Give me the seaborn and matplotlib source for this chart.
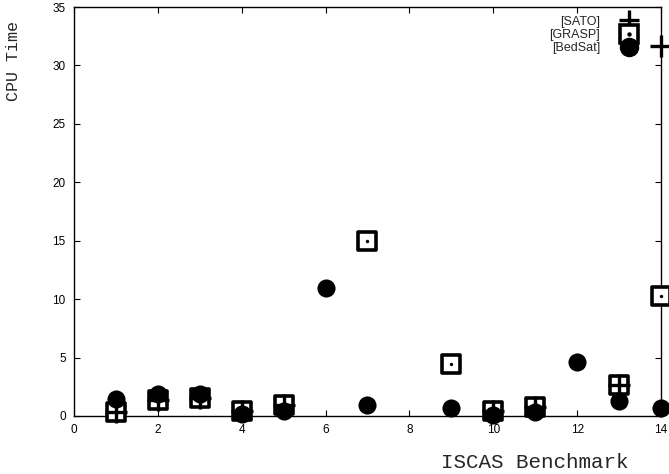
import matplotlib
matplotlib.use("Agg")
from matplotlib import pyplot as plt
from matplotlib.legend_handler import HandlerTuple
from matplotlib.lines import Line2D
import pandas as pd
import seaborn as sns

# values
sato_x = [1, 2, 3, 4, 5, 10, 11, 13, 14]
sato_y = [0.35, 1.4, 1.5, 0.4, 0.95, 0.4, 0.8, 2.65, 31.7]

grasp_x = [1, 2, 3, 4, 5, 7, 9, 10, 11, 13, 14]
grasp_y = [0.35, 1.4, 1.5, 0.4, 0.95, 15.0, 4.45, 0.4, 0.8, 2.65, 10.25]

bedsat_x = [1, 2, 3, 4, 5, 6, 7, 9, 10, 11, 12, 13, 14]
bedsat_y = [1.45, 1.85, 1.85, 0.15, 0.4, 10.95, 0.95, 0.7, 0.1, 0.3, 4.6, 1.3, 0.7]

x_ticks = [0, 2, 4, 6, 8, 10, 12, 14]
y_ticks = [0, 5, 10, 15, 20, 25, 30, 35]

sato = pd.DataFrame({"x": sato_x, "y": sato_y})
grasp = pd.DataFrame({"x": grasp_x, "y": grasp_y})
bedsat = pd.DataFrame({"x": bedsat_x, "y": bedsat_y})

sns.set_theme(style="ticks")
plt.rcParams["font.family"] = ["Liberation Sans", "DejaVu Sans"]

fig = plt.figure(figsize=(6.69, 4.74), dpi=100)
ax = fig.add_axes([74 / 669, 1 - 416 / 474, 587 / 669, 409 / 474])

sns.scatterplot(data=grasp, x="x", y="y", marker="s", s=175, facecolor="white",
                edgecolor="black", linewidth=2.6, ax=ax, clip_on=False, zorder=3)
sns.scatterplot(data=grasp, x="x", y="y", marker="o", s=6, color="black",
                linewidth=0, ax=ax, clip_on=False, zorder=3)
sns.scatterplot(data=sato, x="x", y="y", marker="+", s=240, color="black",
                linewidth=2.4, ax=ax, clip_on=False, zorder=4)
sns.scatterplot(data=bedsat, x="x", y="y", marker="o", s=170, color="black",
                linewidth=0, ax=ax, clip_on=False, zorder=5)

ax.set_xlim(0, 14)
ax.set_ylim(0, 35)
ax.set_xticks(x_ticks)
ax.set_yticks(y_ticks)
ax.tick_params(direction="in", length=4.5, width=0.8, labelsize=8.5,
               top=True, right=True, colors="black", pad=6)
for sp in ax.spines.values():
    sp.set_linewidth(1.0)
    sp.set_color("black")

ax.set_xlabel("ISCAS Benchmark", family="Liberation Mono", fontsize=15)
ax.set_ylabel("CPU Time", family="Liberation Mono", fontsize=12)
ax.xaxis.set_label_coords(0.785, -0.09)
ax.yaxis.set_label_coords(-0.09, 0.868)

h_sato = Line2D([], [], ls="none", marker="+", ms=15, mew=2.4, color="black")
h_sq = Line2D([], [], ls="none", marker="s", ms=13, mew=2.6, mfc="white", mec="black")
h_dot = Line2D([], [], ls="none", marker="o", ms=2.2, color="black")
h_bed = Line2D([], [], ls="none", marker="o", ms=13, color="black")
ax.legend([h_sato, (h_sq, h_dot), h_bed], ["[SATO]", "[GRASP]", "[BedSat]"],
          handler_map={tuple: HandlerTuple(ndivide=1)},
          loc="upper right", bbox_to_anchor=(571 / 587, 1.0), frameon=False,
          markerfirst=False, fontsize=9, handlelength=1.2, handletextpad=1.7,
          labelspacing=0.1, borderaxespad=0.3)

fig.savefig("out.png", dpi=100)
